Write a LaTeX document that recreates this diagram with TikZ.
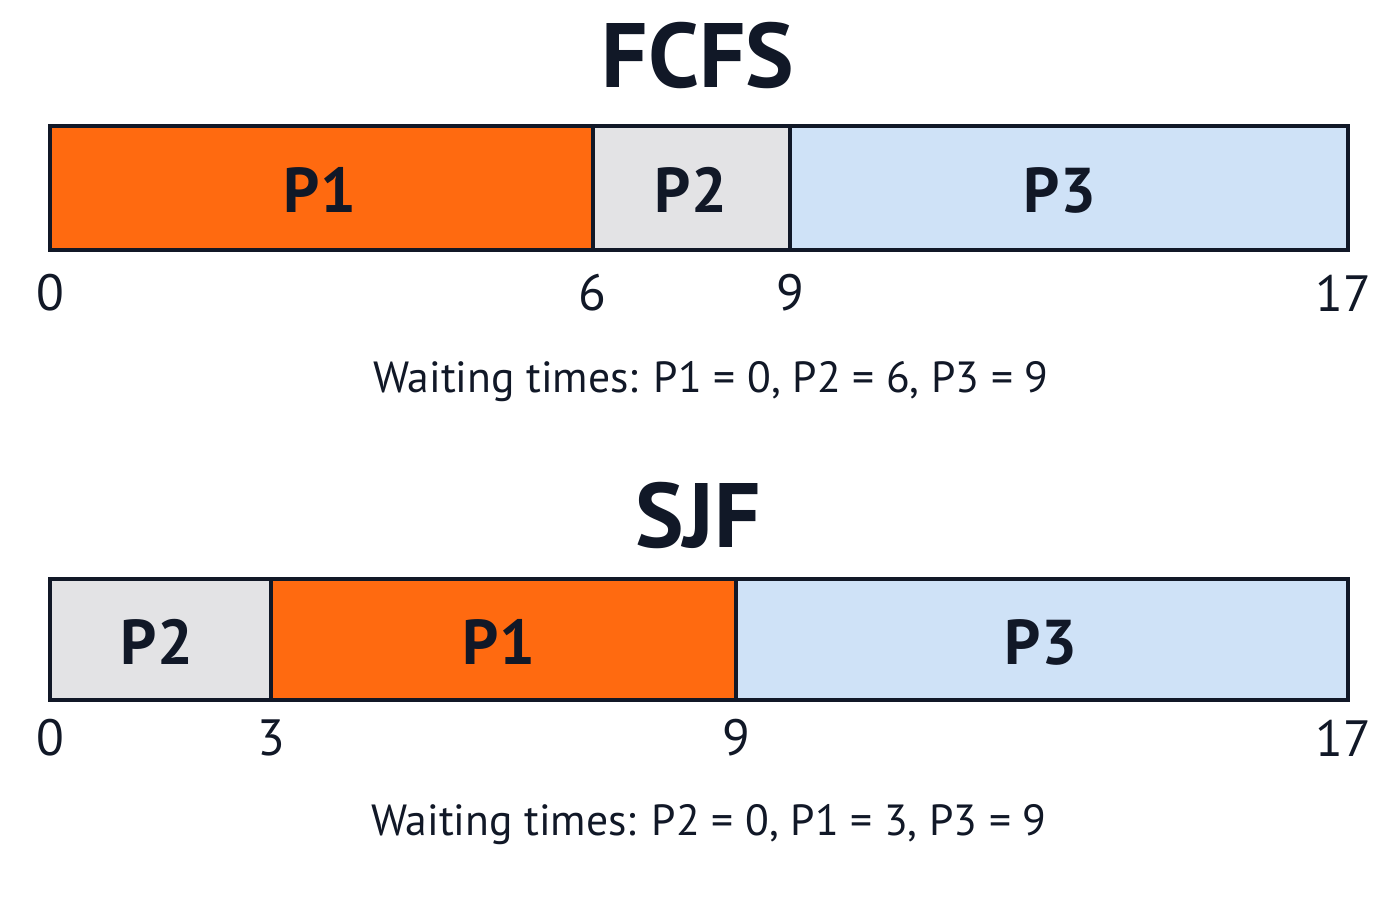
\documentclass[tikz,border=0pt]{standalone}
\usepackage{fontspec}
\setmainfont{PT Sans}
\definecolor{procorange}{HTML}{FF6A10}
\definecolor{procgray}{HTML}{E3E3E5}
\definecolor{procblue}{HTML}{CFE2F7}
\definecolor{inkdark}{HTML}{111827}
\tikzset{
  slot/.style={draw=inkdark,line width=0.9pt},
  plabel/.style={text=inkdark,font=\fontsize{18}{21}\selectfont\bfseries},
  tick/.style={text=inkdark,font=\fontsize{14.5}{17}\selectfont},
  heading/.style={text=inkdark,font=\fontsize{26}{30}\selectfont\bfseries},
  waitnote/.style={text=inkdark,font=\fontsize{12.4}{15}\selectfont}
}
\begin{document}
\begin{tikzpicture}[x=0.01cm,y=-0.01cm]
            \useasboundingbox[fill=white] (0,0) rectangle (1400,900);

            % FCFS
            \node[heading] (fcfs) at (698,55) {FCFS};
            \fill[procorange] (50,126) rectangle (593,250);
            \fill[procgray] (593,126) rectangle (790,250);
            \fill[procblue] (790,126) rectangle (1348,250);
            \draw[slot] (50,126) rectangle (1348,250);
            \draw[slot] (593,126) -- (593,250);
            \draw[slot] (790,126) -- (790,250);
            \node[plabel] (f1) at (320,190) {P1};
            \node[plabel] (f2) at (691,190) {P2};
            \node[plabel] (f3) at (1060,190) {P3};
            \node[tick] (ft0) at (50,293) {0};
            \node[tick] (ft6) at (592,293) {6};
            \node[tick] (ft9) at (790,293) {9};
            \node[tick] (ft17) at (1343,293) {17};
            \node[waitnote] (fwait) at (711,382) {Waiting times: P1 = 0, P2 = 6, P3 = 9};

            % SJF
            \node[heading] (sjf) at (698,515) {SJF};
            \fill[procgray] (50,579) rectangle (271,700);
            \fill[procorange] (271,579) rectangle (736,700);
            \fill[procblue] (736,579) rectangle (1348,700);
            \draw[slot] (50,579) rectangle (1348,700);
            \draw[slot] (271,579) -- (271,700);
            \draw[slot] (736,579) -- (736,700);
            \node[plabel] (s2) at (157,642) {P2};
            \node[plabel] (s1) at (499,642) {P1};
            \node[plabel] (s3) at (1041,642) {P3};
            \node[tick] (st0) at (50,738) {0};
            \node[tick] (st3) at (271,738) {3};
            \node[tick] (st9) at (736,738) {9};
            \node[tick] (st17) at (1343,738) {17};
            \node[waitnote] (swait) at (709,825) {Waiting times: P2 = 0, P1 = 3, P3 = 9};
        \end{tikzpicture}
\end{document}
